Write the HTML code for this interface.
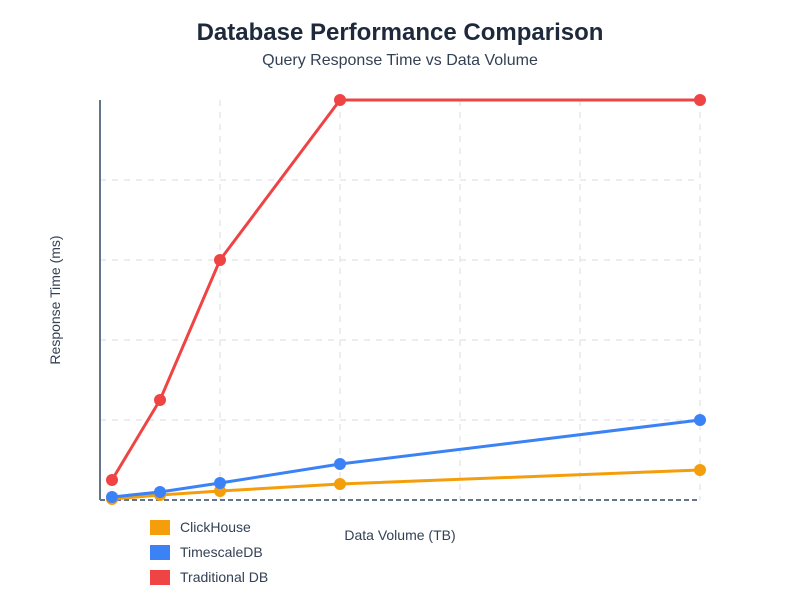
<!DOCTYPE html><html><head><style>body{margin:0;background:#fff;font-family:"Liberation Sans",sans-serif}</style></head><body>
<svg width="800" height="600" xmlns="http://www.w3.org/2000/svg" font-family="Liberation Sans, sans-serif">
<text x="400" y="40" text-anchor="middle" font-size="24" font-weight="bold" fill="#1e293b">Database Performance Comparison</text>
<text x="400" y="65" text-anchor="middle" font-size="16" fill="#334155">Query Response Time vs Data Volume</text>
<g stroke="#e5e7eb" stroke-dasharray="6,6" stroke-width="1.5">
<line x1="220" y1="100" x2="220" y2="500"/><line x1="340" y1="100" x2="340" y2="500"/><line x1="460" y1="100" x2="460" y2="500"/><line x1="580" y1="100" x2="580" y2="500"/><line x1="700" y1="100" x2="700" y2="500"/>
<line x1="100" y1="180" x2="700" y2="180"/><line x1="100" y1="260" x2="700" y2="260"/><line x1="100" y1="340" x2="700" y2="340"/><line x1="100" y1="420" x2="700" y2="420"/>
</g>
<line x1="100" y1="100" x2="100" y2="500" stroke="#64748b" stroke-width="2"/>
<line x1="100" y1="500" x2="700" y2="500" stroke="#64748b" stroke-width="2" stroke-dasharray="5,3"/>
<g stroke-width="3" fill="none">
<polyline stroke="#f59e0b" points="112,499 160,495 220,491 340,484 700,470"/>
<polyline stroke="#3b82f6" points="112,497 160,492 220,483 340,464 700,420"/>
<polyline stroke="#ef4444" points="112,480 160,400 220,260 340,100 700,100"/>
</g>
<g fill="#f59e0b"><circle cx="112" cy="499" r="6"/><circle cx="160" cy="495" r="6"/><circle cx="220" cy="491" r="6"/><circle cx="340" cy="484" r="6"/><circle cx="700" cy="470" r="6"/></g>
<g fill="#3b82f6"><circle cx="112" cy="497" r="6"/><circle cx="160" cy="492" r="6"/><circle cx="220" cy="483" r="6"/><circle cx="340" cy="464" r="6"/><circle cx="700" cy="420" r="6"/></g>
<g fill="#ef4444"><circle cx="112" cy="480" r="6"/><circle cx="160" cy="400" r="6"/><circle cx="220" cy="260" r="6"/><circle cx="340" cy="100" r="6"/><circle cx="700" cy="100" r="6"/></g>
<text x="60" y="300" transform="rotate(-90 60 300)" text-anchor="middle" font-size="14" fill="#334155">Response Time (ms)</text>
<text x="400" y="540" text-anchor="middle" font-size="14" fill="#334155">Data Volume (TB)</text>
<rect x="150" y="520" width="20" height="15" fill="#f59e0b"/><text x="180" y="532" font-size="14" fill="#334155">ClickHouse</text>
<rect x="150" y="545" width="20" height="15" fill="#3b82f6"/><text x="180" y="557" font-size="14" fill="#334155">TimescaleDB</text>
<rect x="150" y="570" width="20" height="15" fill="#ef4444"/><text x="180" y="582" font-size="14" fill="#334155">Traditional DB</text>
</svg></body></html>
